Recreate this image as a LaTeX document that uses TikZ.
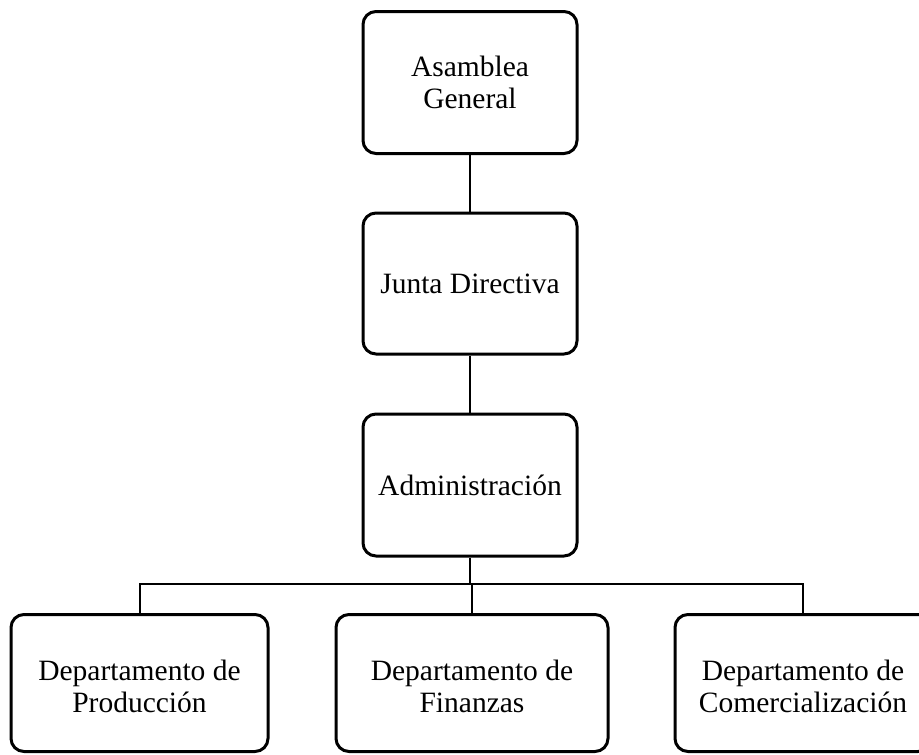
\documentclass[tikz,border=0pt]{standalone}
\usepackage{fontspec}
\setmainfont{Liberation Serif}
\begin{document}
\begin{tikzpicture}[x=1pt,y=-1pt,
  orgbox/.style={draw=black, line width=3pt, rounded corners=13pt, fill=white,
    align=center, inner sep=0pt, font=\fontsize{29.5}{32}\selectfont},
  orgtext/.style={align=center, inner sep=0pt, font=\fontsize{29.5}{32}\selectfont},
  link/.style={draw=black, line width=2pt}]
\useasboundingbox (0,0) rectangle (919,755);
\clip (0,0) rectangle (919,755);
% top chain
\node[orgbox, minimum width=214pt, minimum height=142pt] (ag) at (470,82.5) {Asamblea\\General};
\node[orgbox, minimum width=214pt, minimum height=141pt] (jd) at (470,283.5) {Junta Directiva};
\node[orgbox, minimum width=214pt, minimum height=142pt] (ad) at (470,485) {Administración};
% bottom boxes
\node[orgbox, minimum width=257pt, minimum height=137pt] (b1) at (139.5,683) {};
\node[orgbox, minimum width=272pt, minimum height=137pt] (b2) at (472,683) {};
\node[orgbox, minimum width=256pt, minimum height=137pt] (b3) at (803,683) {};
\node[orgtext] (t1) at (139.5,686) {Departamento de\\Producción};
\node[orgtext] (t2) at (472,686) {Departamento de\\Finanzas};
\node[orgtext] (t3) at (803,686) {Departamento de\\Comercialización};
% connectors
\coordinate (bar) at (470,584);
\draw[link] (ag.south) -- (jd.north);
\draw[link] (jd.south) -- (ad.north);
\draw[link] (ad.south) -- (bar);
\draw[link] (b1.north) |- (bar) -| (b3.north);
\draw[link] (b2.north) -- (b2.north |- bar);
\end{tikzpicture}
\end{document}
